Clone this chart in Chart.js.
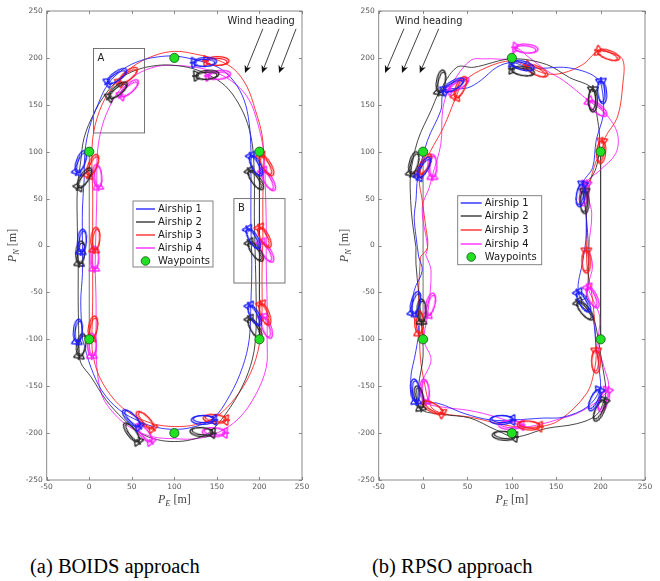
<!DOCTYPE html>
<html><head><meta charset="utf-8">
<script src="https://cdn.jsdelivr.net/npm/chart.js@4.4.1/dist/chart.umd.min.js"></script>
<style>
body{margin:0;background:#fff;width:660px;height:581px;position:relative;overflow:hidden}
#wa{position:absolute;left:0;top:0;width:330px;height:510px}
#wb{position:absolute;left:330px;top:0;width:330px;height:510px}
.cap{position:absolute;font-family:"Liberation Serif","Times New Roman",serif;font-size:20.5px;color:#000;top:555px;white-space:nowrap}
</style></head><body>
<div id="wa"><canvas id="ca"></canvas></div>
<div id="wb"><canvas id="cb"></canvas></div>
<div class="cap" style="left:30px">(a) BOIDS approach</div>
<div class="cap" style="left:372px">(b) RPSO approach</div>
<script>
// ---------- data ----------
const xTicks = [-50, 0, 50, 100, 150, 200, 250];
const yTicks = [-250, -200, -150, -100, -50, 0, 50, 100, 150, 200, 250];
const seriesNames = ['Airship 1', 'Airship 2', 'Airship 3', 'Airship 4'];
const waypoints = [[0,100],[100,200],[200,100],[200,-100],[100,-200],[0,-100]];
const refLeft = [[0,-100],[0,100]];
const refRight = [[200,100],[200,-100]];

// (a) BOIDS trajectories
const boidsShip1 = [[-8,-100],[-10,-60],[-8,-30],[-8,0],[-8,40],[-6,70],[-5,100],[0,125],[10,150],[22,172],[40,188],[60,197],[80,201],[100,202],[120,199],[140,194],[155,188],[170,175],[182,155],[188,130],[190,100],[190,60],[190,20],[191,-20],[190,-60],[188,-100],[180,-130],[165,-160],[145,-185],[120,-194],[100,-196],[80,-194],[60,-188],[35,-175],[15,-155],[2,-130],[-8,-100]];
const boidsShip2 = [[-12,-110],[-13,-60],[-13,-20],[-14,20],[-14,60],[-10,90],[-6,115],[5,140],[18,160],[35,177],[55,187],[80,192],[100,192],[120,189],[140,182],[160,170],[175,152],[186,130],[192,105],[194,70],[194,30],[195,-10],[196,-50],[196,-90],[192,-120],[180,-150],[160,-180],[140,-200],[120,-207],[100,-209],[80,-207],[60,-200],[40,-185],[20,-165],[2,-140],[-10,-125],[-12,-110]];
const boidsShip3 = [[3,-100],[4,-60],[4,-20],[4,20],[4,60],[3,90],[5,120],[15,150],[30,172],[50,190],[75,202],[100,207],[125,204],[150,198],[170,188],[185,170],[195,145],[203,118],[205,90],[204,50],[204,10],[203,-30],[203,-70],[200,-105],[190,-135],[172,-162],[150,-182],[125,-191],[100,-193],[75,-190],[50,-180],[30,-165],[12,-140],[4,-115],[3,-100]];
const boidsShip4 = [[8,-100],[8,-60],[7,-20],[8,20],[9,60],[9,90],[12,115],[20,140],[35,165],[55,182],[80,191],[100,192],[125,190],[150,184],[172,172],[188,155],[198,130],[205,100],[207,60],[208,20],[208,-20],[209,-60],[209,-100],[208,-130],[195,-160],[175,-185],[150,-200],[125,-206],[100,-206],[75,-204],[50,-195],[30,-180],[15,-160],[9,-130],[8,-100]];
// (a) BOIDS airship snapshots [x, y, heading deg]
const boidsPose1 = [[21.6,173.7,35],[122.8,195,3],[-14.5,78,70],[190,96,-63],[186.3,17.7,-60],[-9.8,-7,85],[-14.5,-102.9,85],[188.2,-63.8,-62],[147,-186,180],[58.8,-193,135]];
const boidsPose2 = [[23.5,157.8,40],[125.5,180.9,5],[-12.9,62,57],[188.2,79.8,-55],[188.2,3.5,-55],[-11.7,-19.5,85],[-11.8,-118,80],[188.2,-78,-60],[145.2,-200,175],[57.6,-209,127]];
const boidsPose3 = [[35.3,173.7,39],[137.3,196.8,0],[-1.2,74.5,67],[202,95.7,-60],[200,19.5,-63],[6,-5,85],[2,-99.3,80],[202,-62,-70],[160.8,-186,175],[74.6,-195,134]];
const boidsPose4 = [[37.3,159.6,42],[139.3,180.9,5],[10.6,62,95],[204,79.8,-60],[202,3.5,-60],[6,-25,90],[3,-118,90],[204,-76,-70],[159.7,-199.7,177],[72.6,-209,130]];

// (b) RPSO trajectories
const rpsoShip1 = [[-5,-12],[-8,10],[-10,30],[-8,48],[-6,72],[5,112],[20,144],[24,165],[50,168],[65,176],[83,190],[100,195],[118,190],[135,189],[158,190],[180,186],[195,179],[201,170],[203,140],[195,112],[191,83],[180,66],[183,40],[184,12],[180,-16],[175,-50],[190,-73],[195,-108],[199,-137],[199,-154],[185,-172],[158,-183],[135,-184],[101,-186],[76,-186],[46,-179],[16,-168],[-8,-167],[-14,-144],[-8,-112],[-5,-87],[-12,-73],[-10,-48],[-1,-27],[-5,-12]];
const rpsoShip2 = [[-8,-2],[-12,25],[-14,48],[-14,76],[-6,112],[9,144],[18,163],[38,190],[57,190],[100,199],[139,193],[165,179],[191,167],[195,144],[199,112],[195,83],[182,58],[184,30],[186,-2],[184,-55],[175,-60],[191,-76],[197,-98],[201,-122],[206,-154],[204,-165],[195,-181],[173,-190],[139,-195],[104,-204],[83,-197],[53,-184],[22,-180],[-3,-174],[-5,-150],[0,-118],[-2,-82],[-5,-50],[-8,-20],[-8,-2]];
const rpsoShip3 = [[-3,-12],[5,-2],[3,20],[-1,48],[-4,76],[8,100],[23,126],[37,158],[46,175],[72,190],[100,197],[117,191],[139,183],[158,184],[180,193],[197,207],[212,205],[225,198],[225,172],[219,137],[205,115],[201,100],[195,90],[188,66],[184,30],[184,-2],[185,-25],[191,-58],[195,-112],[193,-133],[184,-158],[154,-186],[132,-193],[102,-193],[53,-183],[22,-179],[9,-172],[1,-144],[-3,-120],[-4,-94],[-5,-51],[-3,-12]];
const rpsoShip4 = [[3,-10],[5,-2],[-1,40],[7,62],[10,73],[20,108],[22,144],[29,166],[53,197],[72,199],[100,200],[104,211],[120,200],[140,186],[158,176],[187,154],[206,140],[219,119],[217,98],[199,80],[184,66],[190,34],[187,-2],[191,-22],[186,-44],[191,-57],[199,-76],[197,-108],[204,-130],[208,-154],[180,-176],[150,-186],[120,-193],[111,-192],[83,-183],[53,-176],[20,-172],[3,-167],[-1,-147],[9,-122],[1,-101],[5,-75],[9,-27],[3,-10]];
// (b) RPSO airship snapshots [x, y, heading deg]
const rpsoPose1 = [[23.5,165,30],[100,195,-15],[200.6,175.5,-85],[180,65.6,-100],[174.5,-49.7,-60],[198.8,-154,-115],[101,-186,180],[-8,-166.7,95],[-11.9,-72.7,75],[-5.6,72.7,60]];
const rpsoPose2 = [[17.9,163,80],[100,188,-10],[191.3,166.7,-90],[182,58.5,-90],[174.5,-60.3,-50],[204.4,-165,-115],[103.7,-204,175],[-2.6,-173.7,100],[-1.8,-81.6,90],[-13.8,76.3,75]];
const rpsoPose3 = [[36.6,157.8,65],[116.8,191.5,-25],[197,207.4,-20],[201.8,111.7,-95],[184,-5,-90],[195,-111.7,-90],[131.7,-193,175],[21.7,-179,150],[-4.5,-94,90],[-4.5,76.3,60]];
const rpsoPose4 = [[29,165.6,30],[103.7,211,-5],[186.8,154,-40],[183.9,66.3,-100],[185.7,-44.3,-65],[208,-154,-110],[111,-191.5,180],[3,-166.7,95],[4.9,-74.5,75],[10.5,72.7,90]];

// wind arrows [x0,y0,x1,y1]
const windA = [[204,231,183,184],[223,231,203,184],[243,231,223,184]];
const windB = [[-21.6,231,-42.8,184],[-2.6,231,-23.8,184],[17.6,231,-3.7,184]];
// zoom boxes in (a): [xmin, ymin, xmax, ymax, label]
const boxesA = [[5,120,65,210,'A'],[170,-40,230,50,'B']];

// ---------- styling ----------
const colors = ['#1a1aff', '#262626', '#ff1a1a', '#ff1aff'];

function makeGlyph(color){
  const c = document.createElement('canvas'); c.width = 56; c.height = 56;
  const g = c.getContext('2d'); g.strokeStyle = color; g.lineWidth = 1.2;
  g.beginPath(); g.ellipse(39.5, 28, 11.5, 4.4, 0, 0, Math.PI*2); g.stroke();
  g.beginPath(); g.ellipse(38.5, 29, 10.5, 3.6, 0, 0, Math.PI*2); g.stroke();
  g.lineWidth = 1.4;
  g.beginPath();
  g.moveTo(26,22.5); g.lineTo(26,33.5);
  g.moveTo(26,22.5); g.lineTo(31.5,26); g.moveTo(26,33.5); g.lineTo(31.5,30);
  g.moveTo(24,28); g.lineTo(31,28);
  g.stroke();
  return c;
}
const glyphs = colors.map(makeGlyph);

const pts = arr => arr.map(p => ({x:p[0], y:p[1]}));

function buildDatasets(ships, poses){
  const ds = [];
  ds.push({label:'Waypoints', data:pts(waypoints), showLine:false, pointRadius:4.6, pointHoverRadius:4.6,
    backgroundColor:'#22e022', borderColor:'#145214', borderWidth:0.8, order:1});
  poses.forEach((p,i)=>{
    ds.push({label:seriesNames[i]+' pose', data:pts(p), showLine:false, pointStyle:glyphs[i],
      pointRadius:10, rotation:ctx => -(p[ctx.dataIndex] ? p[ctx.dataIndex][2] : 0), order:2});
  });
  ships.forEach((s,i)=>{
    ds.push({label:seriesNames[i], data:pts(s), showLine:true, pointRadius:0, borderColor:colors[i],
      backgroundColor:colors[i], borderWidth:0.85, tension:0.35, order:3});
  });
  [refLeft, refRight].forEach(r=>{
    ds.push({label:'ref', data:pts(r), showLine:true, pointRadius:0, borderColor:'#333', borderWidth:0.7, order:4});
  });
  return ds;
}

function mathLabel(ctx, sub){
  const f1 = 'italic 12px "Liberation Serif", serif', f2 = 'italic 8.5px "Liberation Serif", serif', f3 = '12px "Liberation Serif", serif';
  ctx.font = f1; const w1 = ctx.measureText('P').width;
  ctx.font = f2; const w2 = ctx.measureText(sub).width;
  ctx.font = f3; const w3 = ctx.measureText(' [m]').width;
  return {w: w1+w2+w3, draw(x, y){
    ctx.textBaseline = 'alphabetic'; ctx.textAlign = 'left';
    ctx.font = f1; ctx.fillText('P', x, y);
    ctx.font = f2; ctx.fillText(sub, x+w1, y+3);
    ctx.font = f3; ctx.fillText(' [m]', x+w1+w2, y);
  }};
}

function overlayPlugin(cfg){
  return {
    id:'overlay',
    afterDatasetsDraw(chart){
      const ctx = chart.ctx, sx = chart.scales.x, sy = chart.scales.y;
      ctx.save();
      (cfg.boxes||[]).forEach(b=>{
        const x0 = sx.getPixelForValue(b[0]), x1 = sx.getPixelForValue(b[2]);
        const y0 = sy.getPixelForValue(b[3]), y1 = sy.getPixelForValue(b[1]);
        ctx.strokeStyle = '#666'; ctx.lineWidth = 0.9;
        ctx.strokeRect(x0, y0, x1-x0, y1-y0);
        ctx.fillStyle = '#222'; ctx.font = '10px "DejaVu Sans", sans-serif';
        ctx.textAlign = 'left'; ctx.textBaseline = 'top';
        ctx.fillText(b[4], x0+4, y0+5);
      });
      ctx.strokeStyle = '#111'; ctx.fillStyle = '#111'; ctx.lineWidth = 0.8;
      cfg.wind.forEach(w=>{
        const x0 = sx.getPixelForValue(w[0]), y0 = sy.getPixelForValue(w[1]);
        const x1 = sx.getPixelForValue(w[2]), y1 = sy.getPixelForValue(w[3]);
        const ang = Math.atan2(y1-y0, x1-x0), L = 7.5, H = 3.4;
        ctx.beginPath(); ctx.moveTo(x0,y0); ctx.lineTo(x1 - Math.cos(ang)*L*0.6, y1 - Math.sin(ang)*L*0.6); ctx.stroke();
        ctx.beginPath(); ctx.moveTo(x1,y1);
        ctx.lineTo(x1 - Math.cos(ang)*L - Math.sin(ang)*H, y1 - Math.sin(ang)*L + Math.cos(ang)*H);
        ctx.lineTo(x1 - Math.cos(ang)*L*0.7, y1 - Math.sin(ang)*L*0.7);
        ctx.lineTo(x1 - Math.cos(ang)*L + Math.sin(ang)*H, y1 - Math.sin(ang)*L - Math.cos(ang)*H);
        ctx.closePath(); ctx.fill();
      });
      ctx.fillStyle = '#222'; ctx.font = '9.8px "DejaVu Sans", sans-serif';
      ctx.textAlign = 'center'; ctx.textBaseline = 'middle';
      ctx.fillText('Wind heading', sx.getPixelForValue(cfg.windText[0]), sy.getPixelForValue(cfg.windText[1]));
      const L = cfg.legend;
      ctx.fillStyle = '#fff'; ctx.fillRect(L.x, L.y, L.w, L.h);
      ctx.strokeStyle = '#777'; ctx.lineWidth = 0.9; ctx.strokeRect(L.x, L.y, L.w, L.h);
      ctx.font = '10px "DejaVu Sans", sans-serif'; ctx.textAlign = 'left'; ctx.textBaseline = 'middle';
      const labels = seriesNames.concat(['Waypoints']);
      labels.forEach((t,i)=>{
        const yy = Math.round(L.y + L.top + i*L.step);
        if (i < 4){
          ctx.strokeStyle = colors[i]; ctx.lineWidth = 1.3;
          ctx.beginPath(); ctx.moveTo(L.x+3, yy); ctx.lineTo(L.x+L.line, yy); ctx.stroke();
        } else {
          ctx.beginPath(); ctx.arc(L.x+3+(L.line-3)/2, yy, 4.3, 0, Math.PI*2);
          ctx.fillStyle = '#22e022'; ctx.fill(); ctx.strokeStyle = '#145214'; ctx.lineWidth = 0.8; ctx.stroke();
        }
        ctx.fillStyle = '#1a1a1a'; ctx.fillText(t, L.x+L.line+3, yy+0.5);
      });
      ctx.restore();
    },
    afterDraw(chart){
      const ctx = chart.ctx, a = chart.chartArea, sx = chart.scales.x, sy = chart.scales.y;
      ctx.save();
      ctx.strokeStyle = '#7d7d7d'; ctx.lineWidth = 0.9;
      ctx.strokeRect(a.left, a.top, a.right-a.left, a.bottom-a.top);
      ctx.beginPath();
      xTicks.forEach(v=>{ const p = Math.round(sx.getPixelForValue(v))+0.5;
        ctx.moveTo(p, a.bottom); ctx.lineTo(p, a.bottom-3); ctx.moveTo(p, a.top); ctx.lineTo(p, a.top+3); });
      yTicks.forEach(v=>{ const p = Math.round(sy.getPixelForValue(v))+0.5;
        ctx.moveTo(a.left, p); ctx.lineTo(a.left+3, p); ctx.moveTo(a.right, p); ctx.lineTo(a.right-3, p); });
      ctx.stroke();
      ctx.fillStyle = '#444';
      const lx = mathLabel(ctx, 'E');
      lx.draw((a.left+a.right)/2 - lx.w/2, 503);
      ctx.translate(cfg.yTitleX, (a.top+a.bottom)/2);
      ctx.rotate(-Math.PI/2);
      const ly = mathLabel(ctx, 'N');
      ly.draw(-ly.w/2, 0);
      ctx.restore();
    }
  };
}

function makeChart(id, ships, poses, cfg){
  return new Chart(document.getElementById(id), {
    type:'scatter',
    data:{datasets:buildDatasets(ships, poses)},
    options:{
      responsive:true, maintainAspectRatio:false, animation:false,
      layout:{padding:{top:10, right:cfg.padRight, left:0, bottom:0}},
      plugins:{legend:{display:false}, tooltip:{enabled:false}},
      scales:{
        x:{type:'linear', min:-50, max:250, afterBuildTicks:s=>{s.ticks = xTicks.map(v=>({value:v}));},
          grid:{display:false, drawTicks:false}, border:{display:false},
          ticks:{padding:3, color:'#555', font:{size:7.5, family:'"DejaVu Sans", sans-serif'}, maxRotation:0},
          afterFit:s=>{s.height = 30;}},
        y:{type:'linear', min:-250, max:250, afterBuildTicks:s=>{s.ticks = yTicks.map(v=>({value:v}));},
          grid:{display:false, drawTicks:false}, border:{display:false},
          ticks:{padding:4, color:'#555', font:{size:7.5, family:'"DejaVu Sans", sans-serif'}},
          afterFit:s=>{s.width = cfg.yWidth;}}
      }
    },
    plugins:[overlayPlugin(cfg)]
  });
}

makeChart('ca', [boidsShip1, boidsShip2, boidsShip3, boidsShip4], [boidsPose1, boidsPose2, boidsPose3, boidsPose4], {
  padRight:28, yWidth:46.7, yTitleX:16, boxes:boxesA, wind:windA, windText:[202,239],
  legend:{x:133, y:201, w:80, h:66, top:8, step:13, line:22}
});
makeChart('cb', [rpsoShip1, rpsoShip2, rpsoShip3, rpsoShip4], [rpsoPose1, rpsoPose2, rpsoPose3, rpsoPose4], {
  padRight:15, yWidth:48.7, yTitleX:18, boxes:[], wind:windB, windText:[6.4,239],
  legend:{x:127.7, y:195.7, w:84, h:69, top:7, step:13.6, line:24}
});
</script>
</body></html>
